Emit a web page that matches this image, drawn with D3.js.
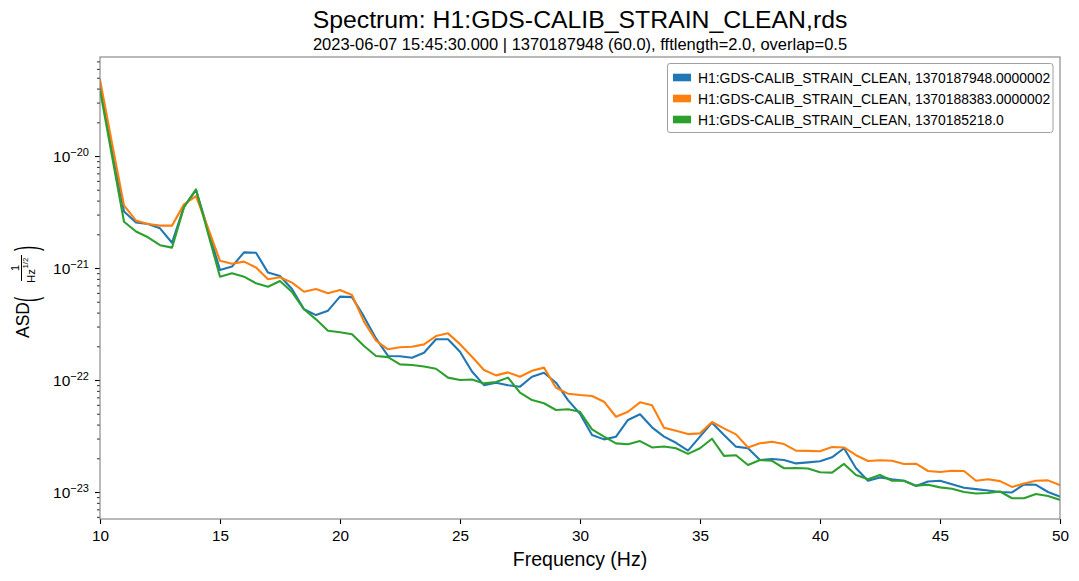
<!DOCTYPE html>
<html><head><meta charset="utf-8">
<script src="https://cdn.jsdelivr.net/npm/d3@7"></script>
<style>
body{margin:0;background:#fff}
svg{display:block}
text{font-family:"Liberation Sans",Arial,Helvetica,sans-serif;fill:#000}
</style>
</head><body>
<svg id="chart" width="1079" height="581"></svg>
<script>
// ---------- data ----------
const frequencies = [
  10,10.5,11,11.5,12,12.5,13,13.5,14,14.5,
  15,15.5,16,16.5,17,17.5,18,18.5,19,19.5,
  20,20.5,21,21.5,22,22.5,23,23.5,24,24.5,
  25,25.5,26,26.5,27,27.5,28,28.5,29,29.5,
  30,30.5,31,31.5,32,32.5,33,33.5,34,34.5,
  35,35.5,36,36.5,37,37.5,38,38.5,39,39.5,
  40,40.5,41,41.5,42,42.5,43,43.5,44,44.5,
  45,45.5,46,46.5,47,47.5,48,48.5,49,49.5,50
];
const seriesNames = [
  "H1:GDS-CALIB_STRAIN_CLEAN, 1370187948.0000002",
  "H1:GDS-CALIB_STRAIN_CLEAN, 1370188383.0000002",
  "H1:GDS-CALIB_STRAIN_CLEAN, 1370185218.0"
];
const seriesColors = ["#1f77b4", "#ff7f0e", "#2ca02c"];
const asd1370187948 = [
  4.2e-20,1.15e-20,3.2e-21,2.55e-21,2.47e-21,2.26e-21,1.68e-21,3.53e-21,4.97e-21,2.2e-21,
  9.6e-22,1.03e-21,1.38e-21,1.37e-21,9.1e-22,8.5e-22,6.5e-22,4.28e-22,3.8e-22,4.16e-22,
  5.55e-22,5.5e-22,3.68e-22,2.35e-22,1.64e-22,1.63e-22,1.58e-22,1.75e-22,2.31e-22,2.31e-22,
  1.79e-22,1.19e-22,9.0e-23,9.46e-23,8.97e-23,8.72e-23,1.07e-22,1.16e-22,9.46e-23,6.62e-23,
  5.0e-23,3.23e-23,2.95e-23,3.12e-23,4.4e-23,4.94e-23,3.78e-23,3.12e-23,2.75e-23,2.34e-23,
  3.12e-23,4.16e-23,3.23e-23,2.54e-23,2.46e-23,1.93e-23,1.97e-23,1.93e-23,1.8e-23,1.84e-23,
  1.88e-23,2.04e-23,2.46e-23,1.63e-23,1.26e-23,1.35e-23,1.3e-23,1.26e-23,1.13e-23,1.24e-23,
  1.26e-23,1.17e-23,1.09e-23,1.06e-23,1.03e-23,1.0e-23,9.9e-24,1.17e-23,1.16e-23,1.0e-23,9.1e-24
];
const asd1370188383 = [
  4.8e-20,1.3e-20,3.62e-21,2.65e-21,2.47e-21,2.39e-21,2.39e-21,3.7e-21,4.39e-21,2.28e-21,
  1.16e-21,1.09e-21,1.14e-21,1.01e-21,7.93e-22,8.26e-22,7.4e-22,6.14e-22,6.5e-22,5.94e-22,
  6.37e-22,5.74e-22,3.32e-22,2.25e-22,1.88e-22,1.96e-22,1.98e-22,2.08e-22,2.47e-22,2.61e-22,
  2.09e-22,1.61e-22,1.23e-22,1.1e-22,1.17e-22,1.07e-22,1.21e-22,1.29e-22,8.53e-23,7.55e-23,
  7.35e-23,7.2e-23,6.4e-23,4.7e-23,5.21e-23,6.32e-23,5.94e-23,3.75e-23,3.52e-23,3.29e-23,
  3.34e-23,4.22e-23,3.7e-23,3.27e-23,2.5e-23,2.72e-23,2.81e-23,2.68e-23,2.34e-23,2.33e-23,
  2.31e-23,2.52e-23,2.5e-23,2.13e-23,1.89e-23,1.92e-23,1.9e-23,1.78e-23,1.79e-23,1.54e-23,
  1.51e-23,1.55e-23,1.54e-23,1.26e-23,1.3e-23,1.25e-23,1.11e-23,1.19e-23,1.26e-23,1.27e-23,1.15e-23
];
const asd1370185218 = [
  3.9e-20,1.0e-20,2.59e-21,2.12e-21,1.88e-21,1.6e-21,1.52e-21,3.5e-21,5.03e-21,2.04e-21,
  8.37e-22,8.96e-22,8.37e-22,7.3e-22,6.81e-22,7.66e-22,6.1e-22,4.28e-22,3.48e-22,2.75e-22,
  2.67e-22,2.56e-22,2.01e-22,1.64e-22,1.6e-22,1.38e-22,1.36e-22,1.32e-22,1.26e-22,1.05e-22,
  1.0e-22,1.01e-22,9.33e-23,9.6e-23,1.05e-22,7.7e-23,6.62e-23,6.2e-23,5.4e-23,5.48e-23,
  5.2e-23,3.63e-23,3.12e-23,2.72e-23,2.67e-23,2.85e-23,2.5e-23,2.55e-23,2.46e-23,2.19e-23,
  2.46e-23,2.99e-23,2.1e-23,2.13e-23,1.74e-23,1.93e-23,1.9e-23,1.63e-23,1.64e-23,1.62e-23,
  1.5e-23,1.49e-23,1.78e-23,1.42e-23,1.3e-23,1.42e-23,1.26e-23,1.26e-23,1.14e-23,1.16e-23,
  1.1e-23,1.07e-23,1.0e-23,9.7e-24,9.8e-24,1.01e-23,8.8e-24,8.8e-24,9.6e-24,9.2e-24,8.5e-24
];
const xTickValues = [10,15,20,25,30,35,40,45,50];
const yTickExponents = [-20,-21,-22,-23];
const titleText = "Spectrum: H1:GDS-CALIB_STRAIN_CLEAN,rds";
const subtitleText = "2023-06-07 15:45:30.000 | 1370187948 (60.0), fftlength=2.0, overlap=0.5";
const xLabelText = "Frequency (Hz)";

// ---------- layout ----------
const W = 1079, H = 581;
const L = 100, R = 1060, T = 57, B = 519;
const svg = d3.select("#chart");

const x = d3.scaleLinear().domain([10, 50]).range([L, R]);
const y = d3.scaleLog().domain([5.74e-24, 7.66e-20]).range([B, T]);

svg.append("rect").attr("width", W).attr("height", H).attr("fill", "#fff");

svg.append("clipPath").attr("id", "clip")
  .append("rect").attr("x", L).attr("y", T).attr("width", R - L).attr("height", B - T);

// lines
const allSeries = [asd1370187948, asd1370188383, asd1370185218];
const line = d3.line().x((d, i) => x(frequencies[i])).y(d => y(d));
const gLines = svg.append("g").attr("clip-path", "url(#clip)");
allSeries.forEach((s, k) => {
  gLines.append("path").datum(s)
    .attr("d", line)
    .attr("fill", "none")
    .attr("stroke", seriesColors[k])
    .attr("stroke-width", 2.1)
    .attr("stroke-linejoin", "round")
    .attr("stroke-linecap", "square");
});

// x axis
const xAxis = svg.append("g").attr("transform", `translate(0,${B})`)
  .call(d3.axisBottom(x).tickValues(xTickValues).tickSize(5).tickPadding(6).tickFormat(d3.format("d")));
xAxis.select(".domain").remove();
xAxis.selectAll("line").attr("stroke", "#000").attr("stroke-width", 1.1);
xAxis.selectAll("text").attr("font-size", "15.3px").attr("fill", "#000")
  .style("font-family", '"Liberation Sans",Arial,sans-serif');

// y axis major
const yMajor = yTickExponents.map(e => Math.pow(10, e));
const yAxis = svg.append("g").attr("transform", `translate(${L},0)`)
  .call(d3.axisLeft(y).tickValues(yMajor).tickSize(5).tickFormat(""));
yAxis.select(".domain").remove();
yAxis.selectAll("line").attr("stroke", "#000").attr("stroke-width", 1.1);

// y axis minor
const [y0, y1] = y.domain();
const yMinor = [];
for (let e = -24; e <= -20; e++) {
  for (let m = 2; m <= 9; m++) {
    const v = m * Math.pow(10, e);
    if (v >= y0 && v <= y1) yMinor.push(v);
  }
}
const yAxisMinor = svg.append("g").attr("transform", `translate(${L},0)`)
  .call(d3.axisLeft(y).tickValues(yMinor).tickSize(3).tickFormat(""));
yAxisMinor.select(".domain").remove();
yAxisMinor.selectAll("line").attr("stroke", "#000").attr("stroke-width", 0.85);

// y tick labels with superscripts
yTickExponents.forEach(e => {
  const t = svg.append("text")
    .attr("x", 89).attr("y", y(Math.pow(10, e)) + 6)
    .attr("text-anchor", "end").attr("font-size", "15.5px");
  t.append("tspan").text("10");
  t.append("tspan").attr("dy", -6).attr("font-size", "11px").text("\u2212" + Math.abs(e));
});

// frame (spines)
svg.append("rect").attr("x", L).attr("y", T).attr("width", R - L).attr("height", B - T)
  .attr("fill", "none").attr("stroke", "#808080").attr("stroke-width", 1.1);

// title & subtitle
svg.append("text").attr("x", (L + R) / 2).attr("y", 28).attr("text-anchor", "middle")
  .attr("font-size", "24.8px").text(titleText);
svg.append("text").attr("x", (L + R) / 2).attr("y", 50).attr("text-anchor", "middle")
  .attr("font-size", "16.5px").text(subtitleText);

// x label
svg.append("text").attr("x", (L + R) / 2).attr("y", 566).attr("text-anchor", "middle")
  .attr("font-size", "19.5px").text(xLabelText);

// y label: ASD (1 / Hz^{1/2})
const yl = svg.append("g").attr("transform", "translate(29,288) rotate(-90)");
yl.append("text").attr("x", -50).attr("y", 0).attr("font-size", "17.5px").text("ASD");
yl.append("text").attr("font-size", "17px").attr("transform", "translate(-14,8) scale(0.9,1.85)").text("(");
yl.append("text").attr("font-size", "17px").attr("transform", "translate(37,8) scale(0.9,1.85)").text(")");
yl.append("line").attr("x1", 7).attr("x2", 33).attr("y1", -7.5).attr("y2", -7.5)
  .attr("stroke", "#000").attr("stroke-width", 1);
yl.append("text").attr("x", 20).attr("y", -10).attr("text-anchor", "middle").attr("font-size", "11px").text("1");
yl.append("text").attr("x", 5).attr("y", 5.5).attr("font-size", "11.5px").text("Hz");
yl.append("text").attr("x", 19.5).attr("y", -0.8).attr("font-size", "7.8px").text("1/2");

// legend
const lg = svg.append("g");
lg.append("rect").attr("x", 667.5).attr("y", 63.5).attr("width", 385.5).attr("height", 69)
  .attr("rx", 2.5).attr("fill", "#fff").attr("stroke", "#a0a0a0").attr("stroke-width", 1);
const rowY = [77.5, 98.5, 119.5];
seriesNames.forEach((name, k) => {
  lg.append("rect").attr("x", 673).attr("y", rowY[k] - 3.8).attr("width", 18).attr("height", 7.6)
    .attr("fill", seriesColors[k]);
  lg.append("text").attr("x", 698).attr("y", rowY[k] + 5.2).attr("font-size", "13.9px").text(name);
});
</script>
</body></html>
